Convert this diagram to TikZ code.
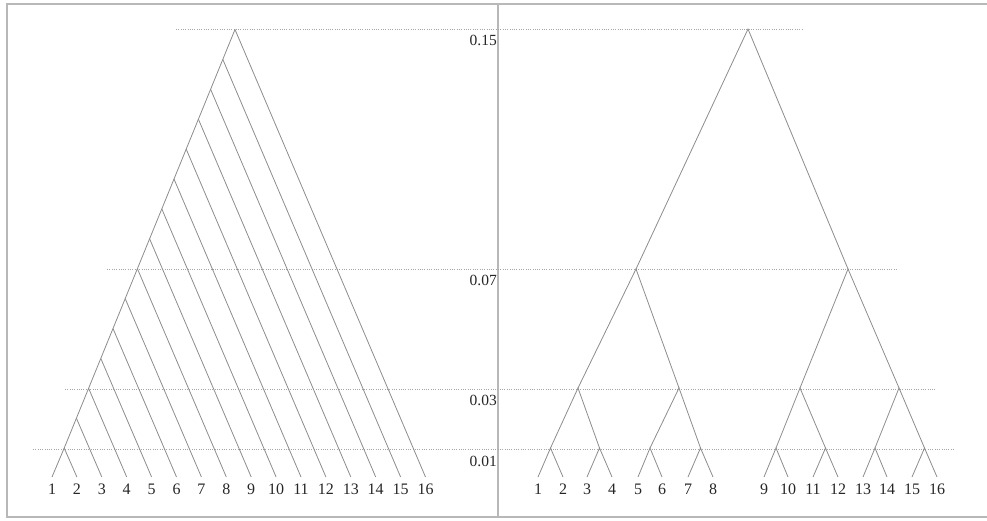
\documentclass[tikz,border=0pt]{standalone}
\usepackage{fontspec}
\setmainfont{Liberation Serif}
\begin{document}
\begin{tikzpicture}[x=1pt,y=-1pt,
  branch/.style={draw=black!45,line width=0.8pt},
  levelline/.style={draw=black!35,line width=0.9pt,dash pattern=on 0.8pt off 1.5pt},
  frameline/.style={draw=black!28,line width=1.2pt},
  leaflab/.style={font=\fontsize{16}{16}\selectfont,text=black!85,inner sep=0pt},
  scalelab/.style={font=\fontsize{15.5}{15.5}\selectfont,text=black!85,inner sep=0pt,anchor=east}]
\useasboundingbox (0,0) rectangle (987,520);
% frame
\coordinate (ftl) at (7,4);
\coordinate (ftr) at (987,4);
\coordinate (fbl) at (7,517);
\coordinate (fbr) at (987,517);
\coordinate (dvt) at (498,4);
\coordinate (dvb) at (498,517);
\draw[frameline] (ftr) -- (ftl) -- (fbl) -- (fbr);
\draw[frameline] (dvt) -- (dvb);
% level lines
\coordinate (p15a) at (176,29);  \coordinate (p15b) at (802,29);
\coordinate (p07a) at (107,269); \coordinate (p07b) at (897,269);
\coordinate (p03a) at (65,389);  \coordinate (p03b) at (935,389);
\coordinate (p01a) at (33,449);  \coordinate (p01b) at (955,449);
\draw[levelline] (p15a) -- (p15b);
\draw[levelline] (p07a) -- (p07b);
\draw[levelline] (p03a) -- (p03b);
\draw[levelline] (p01a) -- (p01b);
\node[scalelab] (s15) at (497,40) {0.15};
\node[scalelab] (s07) at (497,280) {0.07};
\node[scalelab] (s03) at (497,400) {0.03};
\node[scalelab] (s01) at (497,461) {0.01};
% left tree (caterpillar)
\foreach \i in {1,...,16} {
  \coordinate (LA\i) at ({52+24.9*(\i-1)},477);
  \node[leaflab] (la\i) at ({52+24.9*(\i-1)},489) {\i};
}
\foreach \k in {1,...,15} {
  \coordinate (A\k) at ({52+12.2*\k},{478-29.9*\k});
}
\draw[branch] (LA1) -- (A1);
\foreach \k [evaluate=\k as \n using int(\k+1)] in {1,...,14} {
  \draw[branch] (A\k) -- (A\n);
}
\foreach \k [evaluate=\k as \n using int(\k+1)] in {1,...,15} {
  \draw[branch] (A\k) -- (LA\n);
}
% right tree (balanced)
\foreach \i/\x in {1/538,2/563,3/587,4/612,5/638,6/662,7/688,8/713,9/764,10/788,11/813,12/838,13/863,14/887,15/912,16/937} {
  \coordinate (LB\i) at (\x,477);
  \node[leaflab] (lb\i) at (\x,489) {\i};
}
\foreach \j/\x in {1/550.5,2/599.5,3/650,4/700.5,5/776,6/825.5,7/875,8/924.5} {
  \coordinate (C\j) at (\x,448);
}
\foreach \j/\x in {1/578,2/679,3/800,4/899} {
  \coordinate (D\j) at (\x,388);
}
\coordinate (E1) at (636,269);
\coordinate (E2) at (848,269);
\coordinate (R) at (748,29);
\foreach \j [evaluate=\j as \a using int(2*\j-1), evaluate=\j as \b using int(2*\j)] in {1,...,8} {
  \draw[branch] (LB\a) -- (C\j) -- (LB\b);
}
\foreach \j [evaluate=\j as \a using int(2*\j-1), evaluate=\j as \b using int(2*\j)] in {1,...,4} {
  \draw[branch] (C\a) -- (D\j) -- (C\b);
}
\draw[branch] (D1) -- (E1) -- (D2);
\draw[branch] (D3) -- (E2) -- (D4);
\draw[branch] (E1) -- (R) -- (E2);
\end{tikzpicture}
\end{document}
